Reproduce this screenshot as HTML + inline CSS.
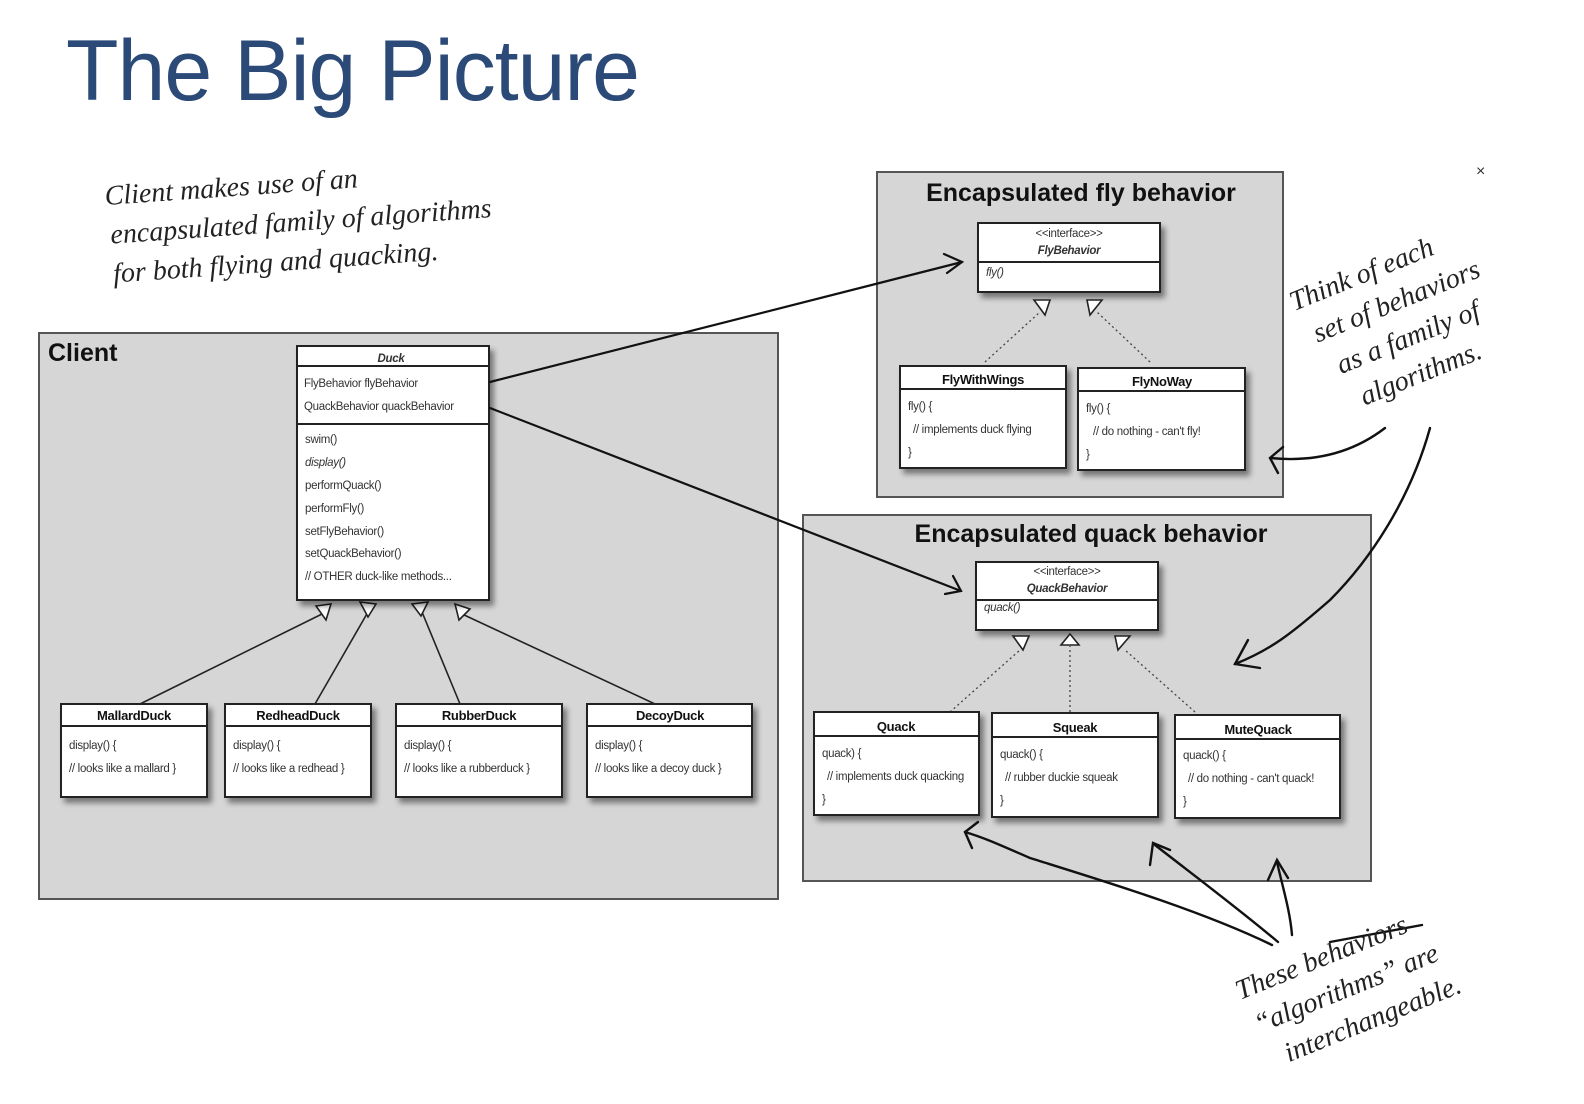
<!DOCTYPE html>
<html><head><meta charset="utf-8"><style>
html,body{margin:0;padding:0;background:#fff;}
svg{display:block;}
.t{font-family:"Liberation Sans",sans-serif;}
.s{font-family:"Liberation Sans",sans-serif;font-size:11.5px;fill:#333;letter-spacing:-0.3px;}
.h{font-family:"Liberation Sans",sans-serif;font-size:13px;fill:#111;font-weight:bold;letter-spacing:-0.3px;}
.hw{font-family:"Liberation Serif",serif;font-style:italic;font-size:28px;fill:#222;}
.box{fill:#fff;stroke:#222;stroke-width:2;filter:url(#sh);}
</style></head><body>
<svg width="1584" height="1104" viewBox="0 0 1584 1104" xmlns="http://www.w3.org/2000/svg">
<defs>
<filter id="sh" x="-10%" y="-10%" width="130%" height="130%"><feDropShadow dx="4" dy="5" stdDeviation="3" flood-color="#000" flood-opacity="0.45"/></filter>
</defs>
<text x="66" y="100" class="t" font-size="86" fill="#2b4a78" letter-spacing="-1">The Big Picture</text>
<text x="1476" y="176" class="t" font-size="16" fill="#333">×</text>

<g transform="rotate(-4 105 200)">
<text x="105" y="205" class="hw">Client makes use of an</text>
<text x="108" y="244" class="hw">encapsulated family of algorithms</text>
<text x="108" y="283" class="hw">for both flying and quacking.</text>
</g>

<rect x="39" y="333" width="739" height="566" fill="#d6d6d6" stroke="#555" stroke-width="2"/>
<text x="48" y="361" class="t" font-size="25" font-weight="bold" fill="#111">Client</text>

<g stroke="#222" stroke-width="1.6" fill="none">
<line x1="140" y1="704" x2="322" y2="614"/>
<line x1="315" y1="704" x2="368" y2="612"/>
<line x1="460" y1="704" x2="422" y2="612"/>
<line x1="655" y1="704" x2="462" y2="614"/>
</g>
<g fill="#fff" stroke="#222" stroke-width="1.6">
<polygon points="316,606 331,604 326,620"/>
<polygon points="360,602 376,604 368,617"/>
<polygon points="412,604 428,602 421,616"/>
<polygon points="455,604 470,609 459,620"/>
</g>

<rect x="297" y="346" width="192" height="254" class="box"/>
<line x1="297" y1="366" x2="489" y2="366" stroke="#222" stroke-width="2"/>
<line x1="297" y1="424" x2="489" y2="424" stroke="#222" stroke-width="2"/>
<text x="391" y="362" class="s" font-style="italic" font-weight="bold" text-anchor="middle" fill="#111">Duck</text>
<text x="304" y="387" class="s" fill="#111">FlyBehavior flyBehavior</text>
<text x="304" y="410" class="s" fill="#111">QuackBehavior quackBehavior</text>
<text x="305" y="443" class="s">swim()</text>
<text x="305" y="466" class="s" font-style="italic">display()</text>
<text x="305" y="489" class="s">performQuack()</text>
<text x="305" y="512" class="s">performFly()</text>
<text x="305" y="535" class="s">setFlyBehavior()</text>
<text x="305" y="557" class="s">setQuackBehavior()</text>
<text x="305" y="580" class="s">// OTHER duck-like methods...</text>

<rect x="61" y="704" width="146" height="93" class="box"/><line x1="61" y1="726" x2="207" y2="726" stroke="#222" stroke-width="2"/>
<text x="134" y="720" class="h" text-anchor="middle">MallardDuck</text>
<text x="69" y="749" class="s">display() {</text><text x="69" y="772" class="s">// looks like a mallard }</text>
<rect x="225" y="704" width="146" height="93" class="box"/><line x1="225" y1="726" x2="371" y2="726" stroke="#222" stroke-width="2"/>
<text x="298" y="720" class="h" text-anchor="middle">RedheadDuck</text>
<text x="233" y="749" class="s">display() {</text><text x="233" y="772" class="s">// looks like a redhead }</text>
<rect x="396" y="704" width="166" height="93" class="box"/><line x1="396" y1="726" x2="562" y2="726" stroke="#222" stroke-width="2"/>
<text x="479" y="720" class="h" text-anchor="middle">RubberDuck</text>
<text x="404" y="749" class="s">display() {</text><text x="404" y="772" class="s">// looks like a rubberduck }</text>
<rect x="587" y="704" width="165" height="93" class="box"/><line x1="587" y1="726" x2="752" y2="726" stroke="#222" stroke-width="2"/>
<text x="670" y="720" class="h" text-anchor="middle">DecoyDuck</text>
<text x="595" y="749" class="s">display() {</text><text x="595" y="772" class="s">// looks like a decoy duck }</text>

<rect x="877" y="172" width="406" height="325" fill="#d6d6d6" stroke="#555" stroke-width="2"/>
<text x="1081" y="201" class="t" font-size="25" font-weight="bold" text-anchor="middle" fill="#111">Encapsulated fly behavior</text>
<rect x="978" y="223" width="182" height="69" class="box"/><line x1="978" y1="262" x2="1160" y2="262" stroke="#222" stroke-width="2"/>
<text x="1069" y="237" class="s" font-size="10" text-anchor="middle">&lt;&lt;interface&gt;&gt;</text>
<text x="1069" y="254" class="s" font-style="italic" font-weight="bold" text-anchor="middle" fill="#111">FlyBehavior</text>
<text x="986" y="276" class="s" font-style="italic">fly()</text>
<g stroke="#444" stroke-width="1.3" stroke-dasharray="2,3" fill="none">
<line x1="985" y1="362" x2="1040" y2="312"/><line x1="1150" y1="362" x2="1097" y2="312"/>
</g>
<g fill="#fff" stroke="#222" stroke-width="1.6">
<polygon points="1034,300 1050,300 1045,315"/><polygon points="1087,300 1102,300 1090,315"/>
</g>
<rect x="900" y="366" width="166" height="102" class="box"/><line x1="900" y1="389" x2="1066" y2="389" stroke="#222" stroke-width="2"/>
<text x="983" y="384" class="h" text-anchor="middle">FlyWithWings</text>
<text x="908" y="410" class="s">fly() {</text><text x="913" y="433" class="s">// implements duck flying</text><text x="908" y="456" class="s">}</text>
<rect x="1078" y="368" width="167" height="102" class="box"/><line x1="1078" y1="391" x2="1245" y2="391" stroke="#222" stroke-width="2"/>
<text x="1162" y="386" class="h" text-anchor="middle">FlyNoWay</text>
<text x="1086" y="412" class="s">fly() {</text><text x="1093" y="435" class="s">// do nothing - can't fly!</text><text x="1086" y="458" class="s">}</text>

<rect x="803" y="515" width="568" height="366" fill="#d6d6d6" stroke="#555" stroke-width="2"/>
<text x="1091" y="542" class="t" font-size="25" font-weight="bold" text-anchor="middle" fill="#111">Encapsulated quack behavior</text>
<rect x="976" y="562" width="182" height="68" class="box"/><line x1="976" y1="600" x2="1158" y2="600" stroke="#222" stroke-width="2"/>
<text x="1067" y="575" class="s" font-size="10" text-anchor="middle">&lt;&lt;interface&gt;&gt;</text>
<text x="1067" y="592" class="s" font-style="italic" font-weight="bold" text-anchor="middle" fill="#111">QuackBehavior</text>
<text x="984" y="611" class="s" font-style="italic">quack()</text>
<g stroke="#444" stroke-width="1.3" stroke-dasharray="2,3" fill="none">
<line x1="950" y1="712" x2="1020" y2="650"/><line x1="1070" y1="712" x2="1070" y2="646"/><line x1="1195" y1="712" x2="1125" y2="650"/>
</g>
<g fill="#fff" stroke="#222" stroke-width="1.6">
<polygon points="1013,636 1029,636 1023,650"/><polygon points="1061,645 1079,645 1070,634"/><polygon points="1115,636 1130,636 1118,650"/>
</g>
<rect x="814" y="712" width="165" height="103" class="box"/><line x1="814" y1="736" x2="979" y2="736" stroke="#222" stroke-width="2"/>
<text x="896" y="731" class="h" text-anchor="middle">Quack</text>
<text x="822" y="757" class="s">quack) {</text><text x="827" y="780" class="s">// implements duck quacking</text><text x="822" y="803" class="s">}</text>
<rect x="992" y="713" width="166" height="104" class="box"/><line x1="992" y1="737" x2="1158" y2="737" stroke="#222" stroke-width="2"/>
<text x="1075" y="732" class="h" text-anchor="middle">Squeak</text>
<text x="1000" y="758" class="s">quack() {</text><text x="1005" y="781" class="s">// rubber duckie squeak</text><text x="1000" y="804" class="s">}</text>
<rect x="1175" y="715" width="165" height="103" class="box"/><line x1="1175" y1="739" x2="1340" y2="739" stroke="#222" stroke-width="2"/>
<text x="1258" y="734" class="h" text-anchor="middle">MuteQuack</text>
<text x="1183" y="759" class="s">quack() {</text><text x="1188" y="782" class="s">// do nothing - can't quack!</text><text x="1183" y="805" class="s">}</text>

<g stroke="#111" stroke-width="2.2" fill="none" stroke-linecap="round">
<line x1="490" y1="382" x2="962" y2="262"/>
<polyline points="944,254 962,262 947,273"/>
<line x1="490" y1="408" x2="961" y2="591"/>
<polyline points="953,576 961,591 945,594"/>
</g>

<g stroke="#111" stroke-width="2.4" fill="none" stroke-linecap="round">
<path d="M1385,428 C1350,455 1310,462 1270,458"/>
<path d="M1283,447 L1270,458 L1278,473"/>
<path d="M1430,428 C1410,500 1370,560 1330,600 C1290,635 1270,650 1235,664"/>
<path d="M1248,640 L1235,664 L1260,668"/>
<path d="M1272,945 C1200,910 1100,880 1030,858 C1000,845 985,838 965,832"/>
<path d="M978,822 L965,832 L972,848"/>
<path d="M1278,942 C1240,910 1200,880 1155,845"/>
<path d="M1150,865 L1153,843 L1170,850"/>
<path d="M1292,935 C1290,910 1282,885 1277,862"/>
<path d="M1268,880 L1277,860 L1288,878"/>
<path d="M1330,942 L1422,925"/>
</g>

<g transform="rotate(-22 1295 300)">
<text x="1290" y="310" class="hw">Think of each</text>
<text x="1300" y="348" class="hw">set of behaviors</text>
<text x="1310" y="386" class="hw">as a family of</text>
<text x="1320" y="424" class="hw">algorithms.</text>
</g>
<g transform="rotate(-22 1240 1000)">
<text x="1240" y="1000" class="hw">These behaviors</text>
<text x="1245" y="1038" class="hw">“algorithms” are</text>
<text x="1262" y="1076" class="hw">interchangeable.</text>
</g>
</svg>
</body></html>
